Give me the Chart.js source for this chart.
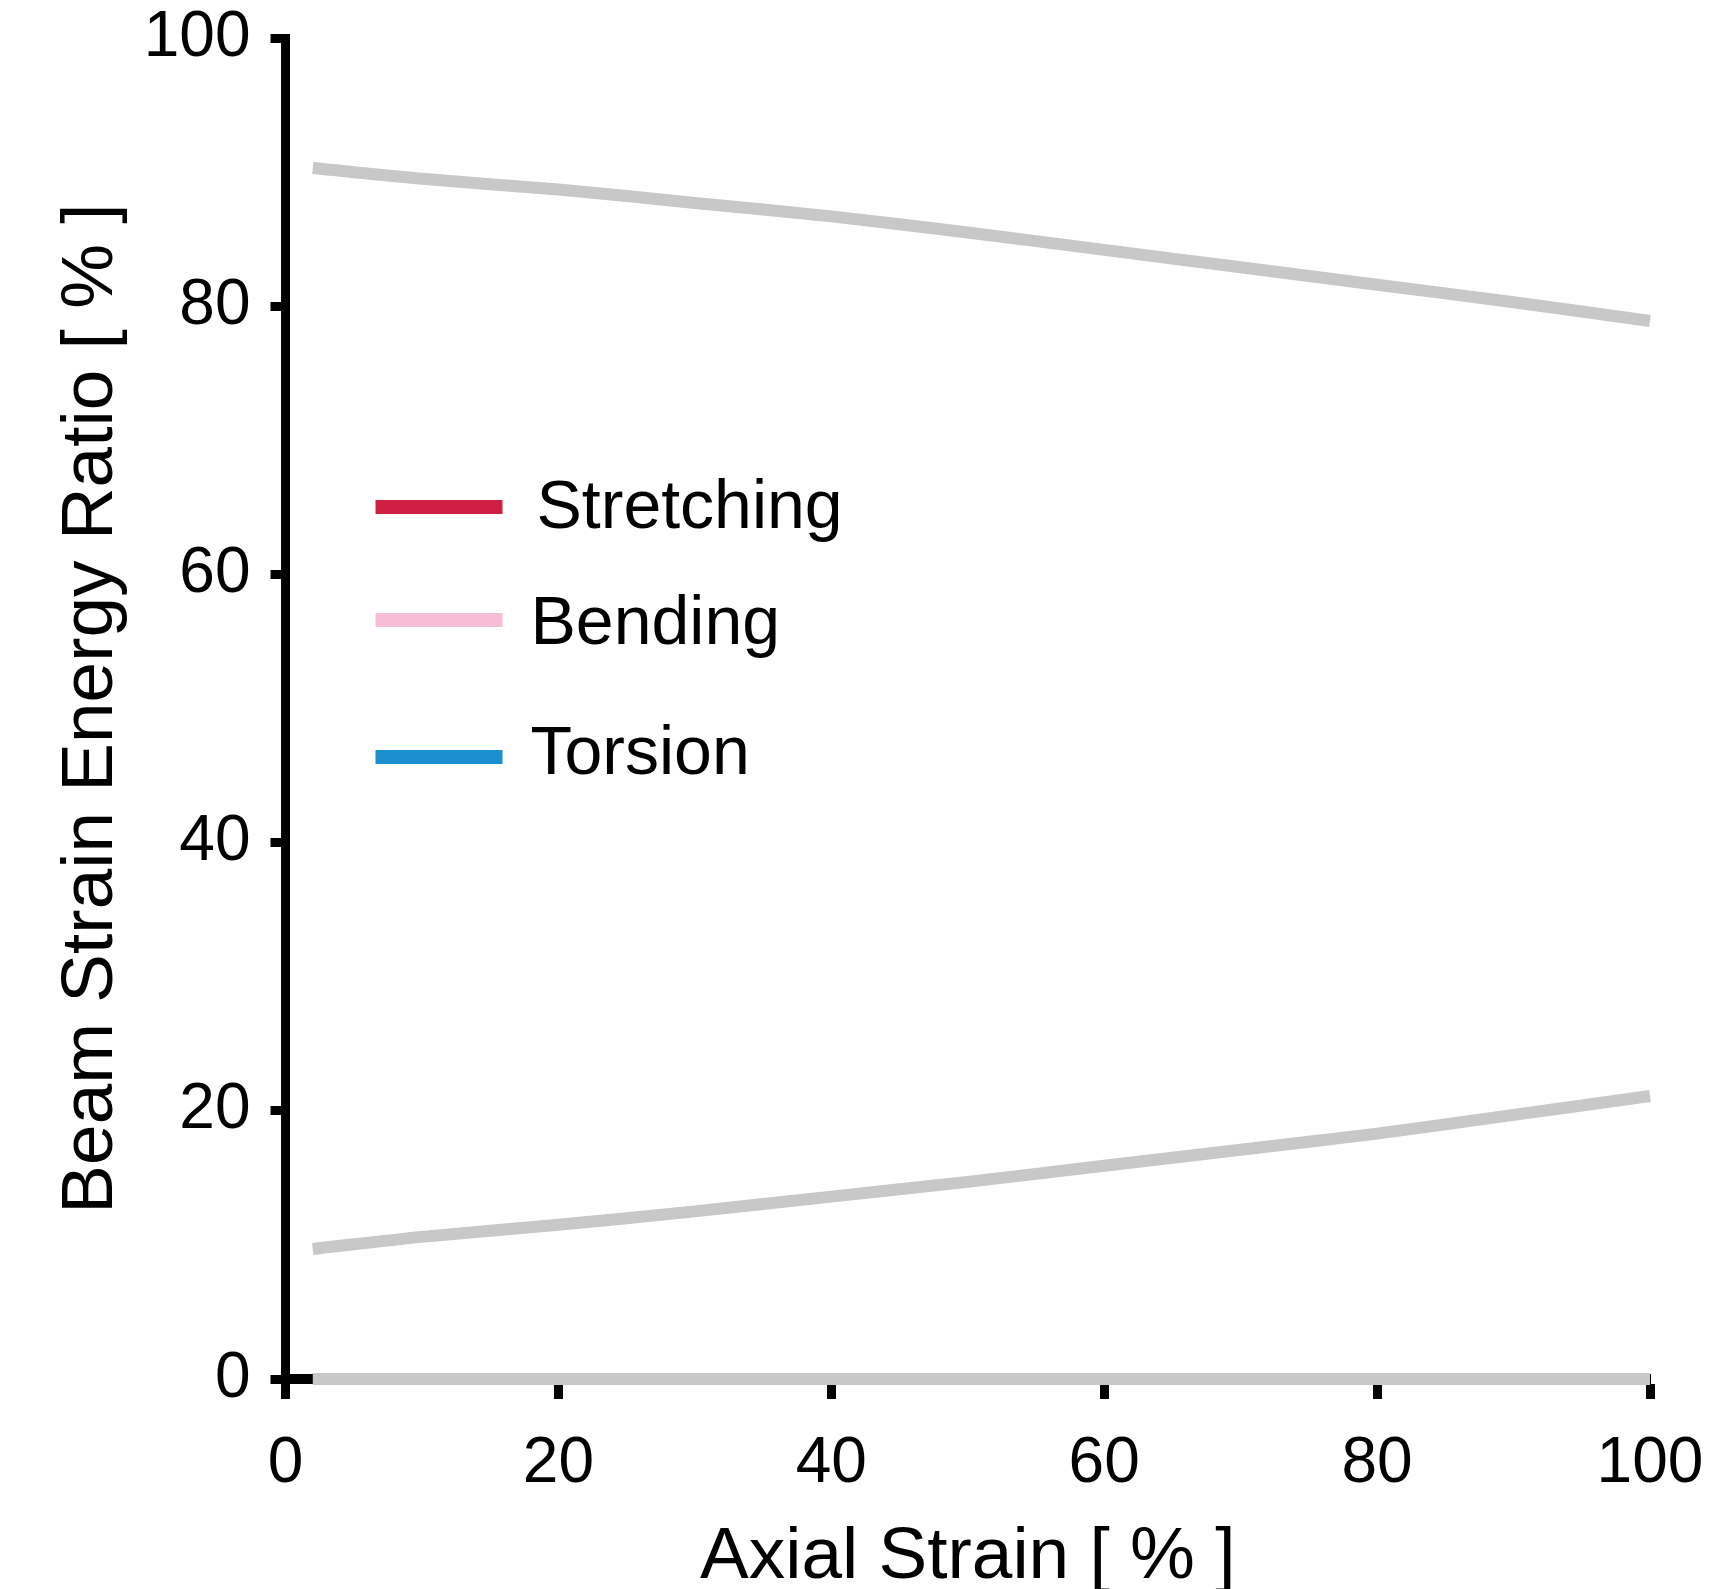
<!DOCTYPE html>
<html>
<head>
<meta charset="utf-8">
<script src="https://cdn.jsdelivr.net/npm/chart.js@4"></script>
<style>
  body { margin: 0; background: #fff; }
  #wrap { width: 1722px; height: 1589px; position: relative; }
</style>
</head>
<body>
<div id="wrap"><canvas id="myChart"></canvas></div>
<script>
// axial strain [%] where the curves were read
const strain = [2, 10, 20, 30, 40, 50, 60, 70, 80, 90, 100];

// energy ratio [%]
const stretching = [9.7, 10.6, 11.5, 12.5, 13.6, 14.7, 15.9, 17.1, 18.3, 19.7, 21.1];
const bending = [90.3, 89.5, 88.7, 87.7, 86.7, 85.5, 84.2, 82.9, 81.6, 80.3, 78.9];
const torsion = [0, 0, 0, 0, 0, 0, 0, 0, 0, 0, 0];

const seriesNames = ['Stretching', 'Bending', 'Torsion'];
const legendColors = ['#d01f42', '#f7bcd6', '#1b8fcf'];
const lineGray = '#c8c8c8';

const xTicks = [0, 20, 40, 60, 80, 100];
const yTicks = [0, 20, 40, 60, 80, 100];

const FONT = '"Liberation Sans", Arial, sans-serif';

function toPoints(values) {
  return strain.map((x, i) => ({ x: x, y: values[i] }));
}

// legend drawn by hand: the original has uneven spacing between rows
const legendRows = [
  { lineY: 469, textX: 251, textY: 490 },
  { lineY: 582, textX: 245, textY: 606 },
  { lineY: 719, textX: 245, textY: 736 },
];

const handLegend = {
  id: 'handLegend',
  afterDraw(chart) {
    const { ctx, chartArea } = chart;
    ctx.save();
    ctx.font = '68px ' + FONT;
    ctx.fillStyle = '#000';
    ctx.textBaseline = 'alphabetic';
    chart.data.datasets.forEach((ds, i) => {
      const row = legendRows[i];
      ctx.strokeStyle = legendColors[i];
      ctx.lineWidth = 14;
      ctx.lineCap = 'butt';
      ctx.beginPath();
      ctx.moveTo(chartArea.left + 90, chartArea.top + row.lineY);
      ctx.lineTo(chartArea.left + 217, chartArea.top + row.lineY);
      ctx.stroke();
      ctx.fillText(ds.label, chartArea.left + row.textX, chartArea.top + row.textY);
    });
    ctx.restore();
  },
};

function renderChart() {
  const ctx = document.getElementById('myChart');

  new Chart(ctx, {
    type: 'line',
    data: {
      datasets: [
        { label: seriesNames[0], data: toPoints(stretching) },
        { label: seriesNames[1], data: toPoints(bending) },
        { label: seriesNames[2], data: toPoints(torsion) },
      ],
    },
    options: {
      responsive: true,
      maintainAspectRatio: false,
      animation: false,
      layout: { padding: 0 },
      datasets: { line: { clip: false } },
      elements: {
        point: { pointStyle: false, radius: 0 },
        line: {
          borderColor: lineGray,
          borderWidth: 12,
          borderCapStyle: 'butt',
          tension: 0.3,
          fill: false,
        },
      },
      plugins: {
        legend: { display: false },
        tooltip: { enabled: false },
      },
      scales: {
        x: {
          type: 'linear',
          min: 0,
          max: 100,
          afterBuildTicks: (axis) => { axis.ticks = xTicks.map(v => ({ value: v })); },
          afterFit: (axis) => { axis.height = 210; axis.paddingRight = 72; },
          border: { display: true, color: '#000', width: 10 },
          grid: {
            drawOnChartArea: false,
            drawTicks: true,
            tickLength: 20,
            tickWidth: 9,
            tickColor: '#000',
          },
          ticks: {
            color: '#000',
            padding: 27,
            maxRotation: 0,
            font: { family: FONT, size: 64 },
          },
          title: {
            display: true,
            text: 'Axial Strain [ % ]',
            color: '#000',
            font: { family: FONT, size: 73, lineHeight: 0.86 },
            padding: { top: 0, bottom: 0 },
          },
        },
        y: {
          type: 'linear',
          min: 0,
          max: 100,
          afterBuildTicks: (axis) => { axis.ticks = yTicks.map(v => ({ value: v })); },
          afterFit: (axis) => { axis.width = 285.5; axis.paddingTop = 38; },
          border: { display: true, color: '#000', width: 9 },
          grid: {
            drawOnChartArea: false,
            drawTicks: true,
            tickLength: 15,
            tickWidth: 9,
            tickColor: '#000',
          },
          ticks: {
            color: '#000',
            padding: 20,
            font: { family: FONT, size: 64 },
          },
          title: {
            display: true,
            text: 'Beam Strain Energy Ratio [ % ]',
            color: '#000',
            font: { family: FONT, size: 73, lineHeight: 1.2 },
            padding: { top: 48, bottom: 0 },
          },
        },
      },
    },
    plugins: [handLegend],
  });
}

renderChart();
</script>
</body>
</html>
